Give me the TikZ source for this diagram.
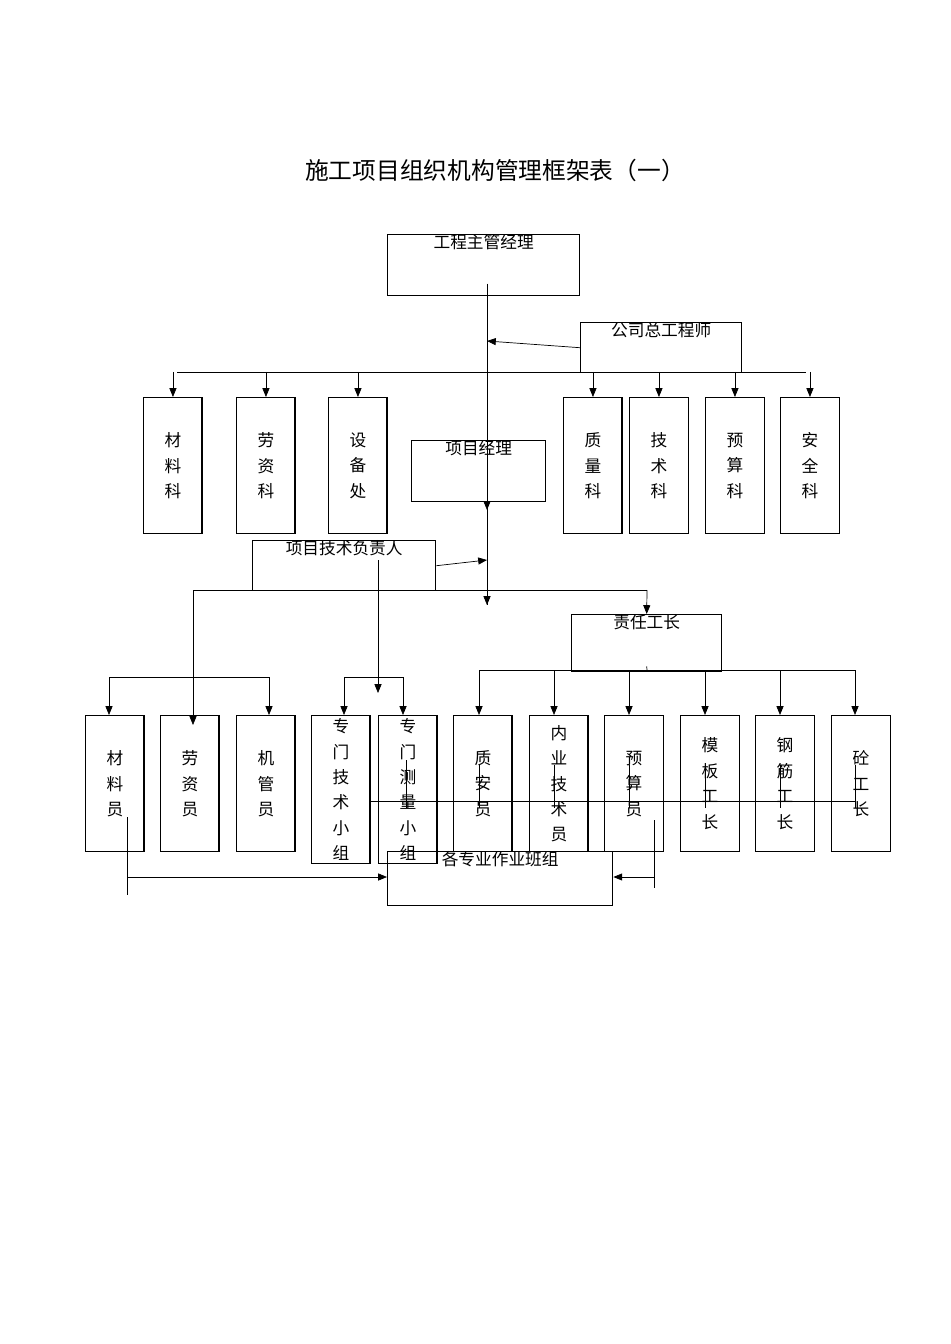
\documentclass[tikz,border=0pt]{standalone}
\usepackage{fontspec}
\newfontfamily\cjk{Noto Sans CJK SC}
\usetikzlibrary{arrows.meta}
\begin{document}
\begin{tikzpicture}[x=0.02cm,y=-0.02cm,
    box/.style={draw,thick,minimum size=0pt,inner sep=0pt,font=\cjk\fontsize{9.5}{14.5}\selectfont,align=center},
    arr/.style={-{Triangle[length=5pt,width=4pt]}},
    every path/.style={thin}]
\useasboundingbox (0,0) rectangle (950,1344);
\node[font=\cjk\fontsize{13.5}{16}\selectfont] (title) at (495,170) {施工项目组织机构管理框架表（一）};
% boxes
\newcommand{\bx}[6]{\node[box,minimum width=#3*0.02cm-0.8pt,minimum height=#4*0.02cm-0.8pt] (#1) at (#2) {#5};}
\node[box,minimum width=3.84cm,minimum height=1cm,anchor=north west,text depth=0pt] (gczg) at (387,234) {工程主管经理\\[12pt]};
\node[box,minimum width=3.22cm,minimum height=1cm,anchor=north west] (gszgc) at (580,322) {公司总工程师\\[6pt]};
\node[box,minimum width=2.68cm,minimum height=1cm,anchor=north west] (xmjl) at (411,440) {项目经理\\[12pt]};
\node[box,minimum width=3.66cm,minimum height=1cm,anchor=north west] (jsfz) at (252,540) {项目技术负责人\\[6pt]};
\node[box,minimum width=3cm,minimum height=1cm,anchor=north west] (zrgz) at (571,614) {责任工长\\[10pt]};
\node[box,minimum width=4.5cm,minimum height=1cm,anchor=north west] (bz) at (387,851) {各专业作业班组\\[8pt]};
% top departments
\foreach \n/\x/\t in {clk/143/材\\料\\科, lzk/236/劳\\资\\科, sbc/328/设\\备\\处, zlk/563/质\\量\\科, jsk/629/技\\术\\科, ysk/705/预\\算\\科, aqk/780/安\\全\\科}
  \node[box,minimum width=1.17cm,minimum height=2.72cm,anchor=north west] (\n) at (\x,397) {\t};
% bottom staff
\foreach \n/\x/\t in {cly/85/材\\料\\员, lzy/160/劳\\资\\员, jgy/236/机\\管\\员, zay/453/质\\安\\员, nyy/529/内\\业\\技\\术\\员, ysy/604/预\\算\\员, mbg/680/模\\板\\工\\长, gjg/755/钢\\筋\\工\\长, tgz/831/砼\\工\\长}
  \node[box,minimum width=1.17cm,minimum height=2.72cm,anchor=north west] (\n) at (\x,715) {\t};
\node[box,minimum width=1.17cm,minimum height=2.96cm,anchor=north west] (jsxz) at (311,715) {专\\门\\技\\术\\小\\组};
\node[box,minimum width=1.17cm,minimum height=2.96cm,anchor=north west] (clxz) at (378,715) {专\\门\\测\\量\\小\\组};
% coordinates
\coordinate (m0) at (487,284);
\coordinate (m1) at (487,341);
\coordinate (m2) at (487,510);
\coordinate (m3) at (487,560);
\coordinate (m4) at (487,605);
% main line
\draw (m0) -- (m4);
\draw[arr] (gszgc.west) -- (m1);
\draw[arr] (m0) -- (m2);
\draw[arr] (m0) -- (m4);
\draw[arr] (jsfz.east) -- (m3);
\draw (177,372) -- (806,372);
\foreach \n in {clk,lzk,sbc,zlk,jsk,ysk,aqk}
  \draw[arr] (\n.north |- 0,372) -- (\n.north);
% second level
\draw (193,590) -- (647,590);
\draw[arr] (647,590) -- (zrgz.north);
\draw[arr] (193,590) -- (193,725);
\draw[arr] (378,560) -- (378,693);
\draw (109,677) -- (269,677);
\draw[arr] (109,677) -- (109,715);
\draw[arr] (269,677) -- (269,715);
\draw (344,677) -- (403,677);
\draw[arr] (344,677) -- (344,715);
\draw[arr] (403,677) -- (403,715);
\draw (zrgz.south) ++(0,-6) -- (647,670);
\draw (479,670) -- (855,670);
\foreach \x in {479,554,629,705,780,855}
  \draw[arr] (\x,670) -- (\x,715);
% cross lines
\draw (369,801) -- (855,801);
\foreach \x/\a in {406/760,479/765,554/765,629/765,705/765,780/765,855/765}
  \draw (\x,\a) -- (\x,808);
\draw (127,817) -- (127,895);
\draw[arr] (127,877) -- (bz.west |- 0,877);
\draw (654,820) -- (654,888);
\draw[arr] (654,877) -- (bz.east |- 0,877);
\end{tikzpicture}
\end{document}
